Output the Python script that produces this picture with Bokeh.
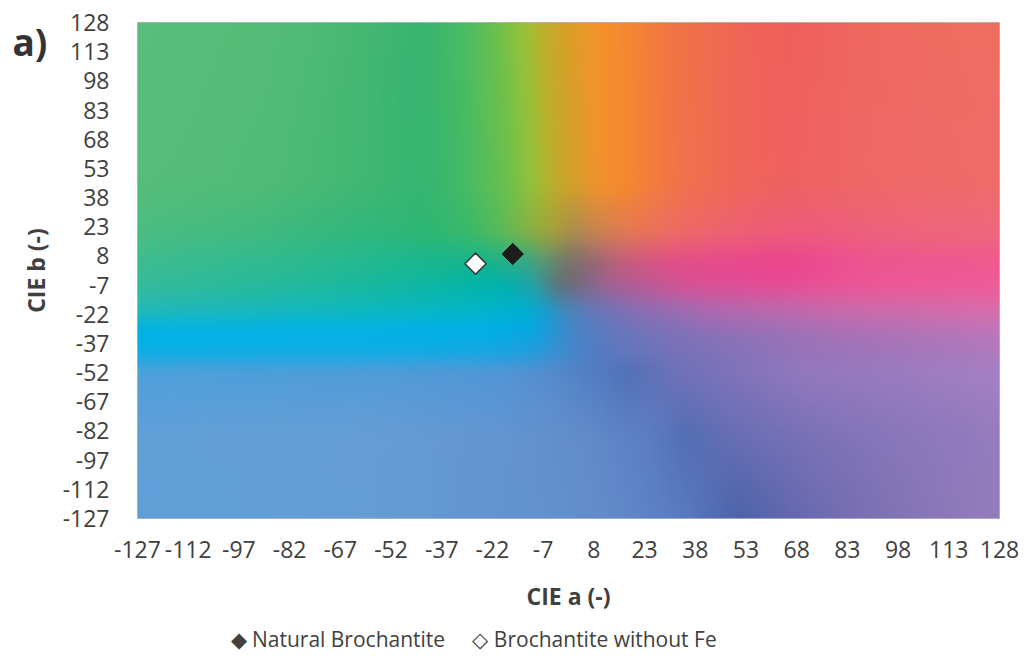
import numpy as np
from bokeh.plotting import figure
from bokeh.models import FixedTicker, Range1d, Title
from bokeh.embed import file_html
from bokeh.resources import INLINE

# ---------------- data ----------------
natural_a = [-16]
natural_b = [9]
nofe_a = [-27]
nofe_b = [4]

axis_min, axis_max = -127, 128
tick_values = list(range(-127, 129, 15))

x_title = "CIE a (-)"
y_title = "CIE b (-)"
panel_tag = "a)"
legend_labels = ["Natural Brochantite", "Brochantite without Fe"]
legend_symbols = ["\u25c6", "\u25c7"]

# background colour field (CIE a-b plane), sampled rows: b level -> (a, rgb) knots
bg_levels = [128, 45, 20, 5, -7, -20, -30, -42, -51, -85, -127]
bg_row_128 = [(-127, (90, 190, 124)), (-90, (85, 188, 120)), (-60, (70, 184, 115)), (-43, (55, 180, 113)),
              (-30, (75, 188, 100)), (-20, (110, 192, 75)), (-13, (150, 196, 58)), (-6, (195, 172, 40)),
              (0, (215, 160, 40)), (8, (244, 148, 42)), (16, (245, 138, 48)), (30, (241, 118, 68)),
              (50, (240, 102, 86)), (66, (240, 96, 92)), (90, (239, 105, 96)), (128, (238, 110, 98))]
bg_row_45 = [(-127, (86, 189, 122)), (-90, (80, 187, 118)), (-60, (65, 184, 115)), (-43, (52, 181, 113)),
             (-30, (70, 187, 102)), (-18, (105, 192, 78)), (-10, (150, 194, 58)), (-3, (195, 170, 42)),
             (3, (215, 158, 42)), (10, (244, 146, 44)), (18, (245, 136, 50)), (32, (241, 116, 72)),
             (50, (240, 102, 90)), (66, (240, 98, 98)), (90, (239, 104, 104)), (128, (238, 108, 106))]
bg_row_20 = [(-127, (75, 189, 130)), (-90, (65, 186, 128)), (-60, (50, 183, 125)), (-40, (45, 182, 115)),
             (-28, (60, 186, 105)), (-18, (95, 186, 85)), (-10, (140, 175, 65)), (-4, (165, 160, 60)),
             (2, (170, 140, 80)), (10, (205, 130, 80)), (20, (232, 118, 85)), (35, (238, 105, 105)),
             (55, (238, 95, 120)), (70, (238, 92, 125)), (100, (238, 100, 125)), (128, (238, 104, 125))]
bg_row_5 = [(-127, (62, 188, 145)), (-90, (50, 187, 145)), (-60, (35, 185, 145)), (-40, (25, 183, 143)),
            (-25, (20, 180, 140)), (-12, (50, 170, 135)), (-6, (95, 145, 115)), (0, (115, 118, 105)),
            (6, (140, 105, 115)), (15, (190, 95, 125)), (30, (225, 80, 135)), (50, (233, 72, 140)),
            (65, (235, 68, 142)), (90, (237, 85, 145)), (128, (240, 90, 145))]
bg_row_m7 = [(-127, (55, 187, 155)), (-90, (40, 186, 155)), (-60, (25, 184, 158)), (-35, (10, 182, 165)),
             (-18, (0, 178, 175)), (-9, (40, 160, 165)), (-4, (90, 120, 130)), (0, (105, 108, 112)),
             (5, (125, 105, 135)), (15, (170, 95, 150)), (35, (215, 82, 150)), (60, (230, 75, 148)),
             (90, (236, 88, 150)), (128, (240, 92, 152))]
bg_row_m20 = [(-127, (35, 185, 185)), (-60, (15, 184, 190)), (-30, (5, 182, 198)), (-12, (0, 176, 210)),
              (-5, (30, 155, 205)), (0, (70, 135, 190)), (8, (100, 120, 185)), (20, (135, 112, 180)),
              (45, (175, 105, 175)), (80, (200, 108, 172)), (128, (215, 110, 172))]
bg_row_m30 = [(-127, (0, 178, 230)), (-60, (0, 178, 232)), (-25, (0, 176, 232)), (-10, (5, 168, 228)),
              (-4, (40, 150, 212)), (3, (75, 130, 198)), (15, (105, 118, 188)), (40, (140, 112, 183)),
              (80, (172, 112, 181)), (128, (190, 118, 185))]
bg_row_m42 = [(-127, (12, 174, 229)), (-60, (15, 173, 229)), (-25, (20, 168, 227)), (-8, (40, 155, 218)),
              (0, (65, 138, 205)), (10, (85, 122, 192)), (30, (115, 115, 185)), (70, (150, 115, 185)),
              (128, (175, 122, 190))]
bg_row_m51 = [(-127, (78, 160, 220)), (-60, (80, 157, 218)), (-20, (82, 150, 215)), (-5, (85, 140, 205)),
              (8, (82, 125, 195)), (18, (82, 112, 182)), (35, (115, 113, 185)), (70, (148, 120, 190)),
              (128, (165, 128, 195))]
bg_row_m85 = [(-127, (98, 160, 216)), (-60, (103, 157, 213)), (-20, (100, 150, 210)), (5, (98, 140, 202)),
              (25, (92, 125, 195)), (35, (82, 110, 180)), (50, (105, 110, 180)), (80, (128, 115, 184)),
              (128, (150, 125, 190))]
bg_row_m127 = [(-127, (95, 160, 215)), (-60, (100, 157, 212)), (-10, (100, 147, 207)), (15, (98, 138, 202)),
               (35, (90, 122, 192)), (50, (75, 100, 170)), (70, (105, 105, 175)), (95, (128, 115, 180)),
               (128, (150, 125, 188))]
bg_rows = [bg_row_128, bg_row_45, bg_row_20, bg_row_5, bg_row_m7, bg_row_m20, bg_row_m30,
           bg_row_m42, bg_row_m51, bg_row_m85, bg_row_m127]

# ---------------- background image ----------------
W, H = 432, 250
span = axis_max - axis_min
a_grid = axis_min + (np.arange(W) + 0.5) * span / W
b_grid = axis_min + (np.arange(H) + 0.5) * span / H

row_imgs = []
for row in bg_rows:
    ka = np.array([k[0] for k in row], dtype=float)
    kc = np.array([k[1] for k in row], dtype=float)
    row_imgs.append(np.stack([np.interp(a_grid, ka, kc[:, c]) for c in range(3)], axis=-1))
row_imgs = np.array(row_imgs)[::-1]          # ascending b
levels = np.array(bg_levels, dtype=float)[::-1]
idx = np.clip(np.searchsorted(levels, b_grid) - 1, 0, len(levels) - 2)
t = ((b_grid - levels[idx]) / (levels[idx + 1] - levels[idx]))[:, None, None]
img = row_imgs[idx] * (1 - t) + row_imgs[idx + 1] * t   # (H, W, 3)


def box_blur(arr, r, axis):
    pad = [(0, 0)] * arr.ndim
    pad[axis] = (r, r)
    padded = np.pad(arr, pad, mode="edge")
    n = arr.shape[axis]
    out = np.zeros_like(arr)
    for i in range(2 * r + 1):
        sl = [slice(None)] * arr.ndim
        sl[axis] = slice(i, i + n)
        out += padded[tuple(sl)]
    return out / (2 * r + 1)


for _ in range(2):
    img = box_blur(img, 3, 0)
    img = box_blur(img, 3, 1)

rgba = np.empty((H, W, 4), dtype=np.uint8)
rgba[..., :3] = np.clip(img, 0, 255).astype(np.uint8)
rgba[..., 3] = 255
img32 = rgba.view(dtype=np.uint32).reshape((H, W))

# ---------------- figure ----------------
FONT = "Open Sans"
TXT = "#404040"

p = figure(width=1020, height=660, x_range=Range1d(axis_min, axis_max), y_range=Range1d(axis_min, axis_max),
           output_backend="svg", toolbar_location=None,
           min_border_left=137, min_border_right=21, min_border_top=22, min_border_bottom=141)
p.background_fill_color = "white"
p.border_fill_color = "white"
p.outline_line_color = "#b8b8b8"
p.outline_line_width = 1
p.xgrid.visible = False
p.ygrid.visible = False

# panel tag "a)" as a left-aligned title hanging into the top-left corner
p.title = Title(text=panel_tag, align="left", vertical_align="bottom", offset=-125, standoff=-88,
                text_font=FONT, text_font_style="bold", text_font_size="37px", text_color="#333333")

p.image_rgba(image=[img32], x=axis_min, y=axis_min, dw=span, dh=span)

tick_text = {v: str(v) for v in tick_values}
for ax in (p.xaxis[0], p.yaxis[0]):
    ax.ticker = FixedTicker(ticks=tick_values)
    ax.major_label_overrides = tick_text
    ax.axis_line_color = None
    ax.major_tick_line_color = None
    ax.minor_tick_line_color = None
    ax.major_label_text_font = FONT
    ax.major_label_text_font_size = "23px"
    ax.major_label_text_color = TXT
    ax.axis_label_text_font = FONT
    ax.axis_label_text_font_style = "bold"
    ax.axis_label_text_font_size = "23px"
    ax.axis_label_text_color = TXT

p.xaxis.axis_label = x_title
p.yaxis.axis_label = y_title
p.xaxis.major_label_standoff = 16
p.xaxis.axis_label_standoff = 19
p.yaxis.major_label_standoff = 22
p.yaxis.axis_label_standoff = 8

p.scatter(natural_a, natural_b, marker="square", angle=np.pi / 4, size=15,
          fill_color="#1c1c1c", line_color="#111111", line_width=1)
p.scatter(nofe_a, nofe_b, marker="square", angle=np.pi / 4, size=15,
          fill_color="#ffffff", line_color="#333333", line_width=1.5)

# legend line under the x-axis title
nb = "\u00a0"
legend_text = (legend_symbols[0] + nb + legend_labels[0] + nb * 5 +
               legend_symbols[1] + nb + legend_labels[1])
legend_title = Title(text=legend_text, align="left", vertical_align="bottom", offset=93, standoff=16,
                     text_font=FONT, text_font_style="normal", text_font_size="21px", text_color=TXT)
p.add_layout(legend_title, "below")

open("out.html", "w").write(file_html(p, INLINE))
